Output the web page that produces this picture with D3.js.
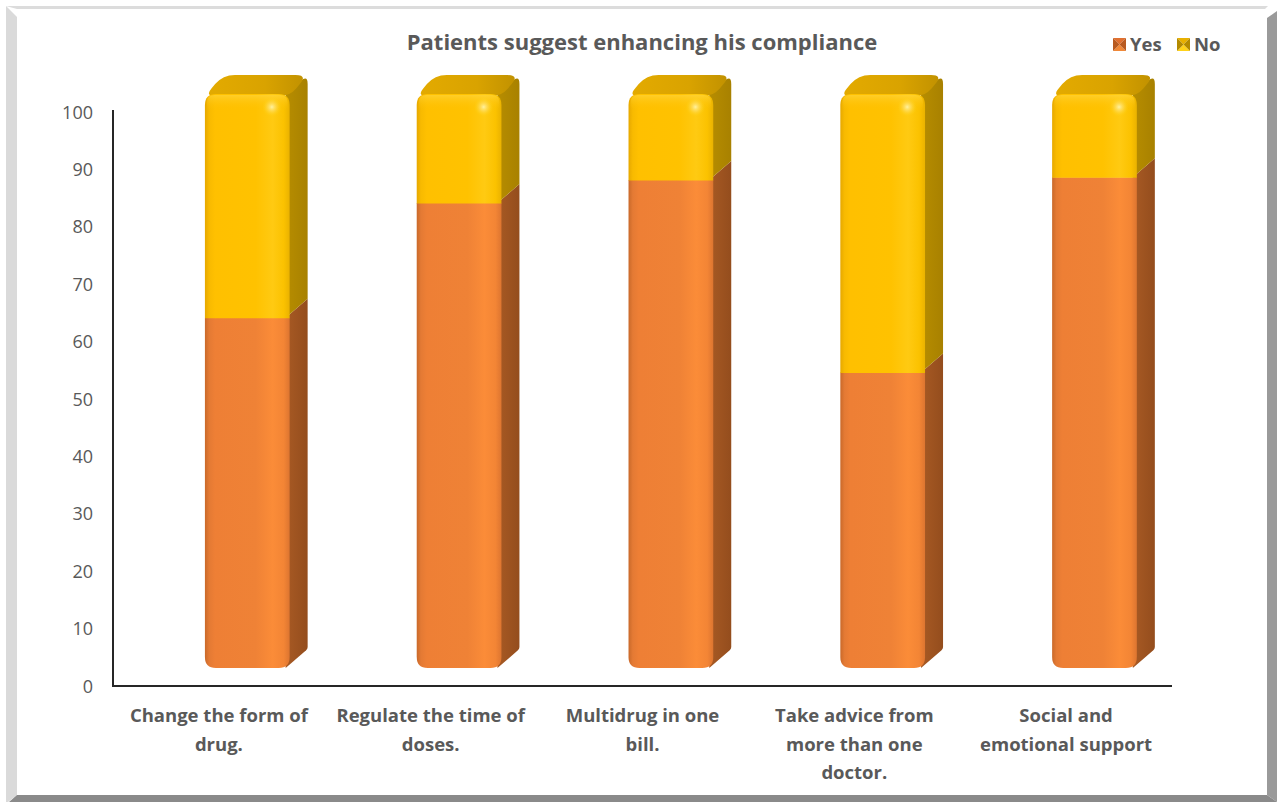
<!DOCTYPE html>
<html>
<head>
<meta charset="utf-8">
<script src="https://cdn.jsdelivr.net/npm/d3@7"></script>
<style>
  html, body { margin: 0; padding: 0; background: #ffffff; }
  svg { display: block; }
  text { font-family: "Open Sans", Lato, sans-serif; }
</style>
</head>
<body>
<svg id="chart" width="1277" height="802"></svg>
<script>
// Survey answers (percent of patients)
const categories = [
  "Change the form of drug.",
  "Regulate the time of doses.",
  "Multidrug in one bill.",
  "Take advice from more than one doctor.",
  "Social and emotional support"
];
const categoryLines = [
  ["Change the form of", "drug."],
  ["Regulate the time of", "doses."],
  ["Multidrug in one", "bill."],
  ["Take advice from", "more than one", "doctor."],
  ["Social and", "emotional support"]
];
const yesValues = [61, 81, 85, 51.5, 85.5];
const noValues  = [39, 19, 15, 48.5, 14.5];
const seriesNames = ["Yes", "No"];
const yTicks = [0, 10, 20, 30, 40, 50, 60, 70, 80, 90, 100];
const titleText = "Patients suggest enhancing his compliance";

const W = 1277, H = 802;
const svg = d3.select("#chart");
const defs = svg.append("defs");

// ---- outer frame with bevelled edges ----
svg.append("rect").attr("x", 0).attr("y", 0).attr("width", W).attr("height", H).attr("fill", "#ffffff");
const frame = svg.append("g");
frame.append("polygon").attr("points", "6,6 1268,6 1265,9 17,9").attr("fill", "#dcdcdc");
frame.append("polygon").attr("points", "6,6 17,17 17,795 8,802 6,802").attr("fill", "#dadada");
frame.append("polygon").attr("points", "1267,18 1277,11 1277,802 1267,795").attr("fill", "#9a9a9a");
frame.append("polygon").attr("points", "17,795 1267,795 1277,802 9,802").attr("fill", "#8a8a8a");

// ---- scales ----
const x = d3.scaleBand().domain(categories).range([113, 1172]).paddingInner(0).paddingOuter(0);
const y = d3.scaleLinear().domain([0, 100]).range([686, 112]);
const lift = 18;       // front face sits above the floor line
const depthX = 18, depthY = 19;
const bw = x.bandwidth();
const faceOffset = bw * 0.434;
const faceWidth = bw * 0.40;

// ---- gradients ----
function hGrad(id, stops) {
  const g = defs.append("linearGradient").attr("id", id)
    .attr("x1", "0%").attr("x2", "100%").attr("y1", "0%").attr("y2", "0%");
  stops.forEach(s => g.append("stop").attr("offset", s[0]).attr("stop-color", s[1]));
}
hGrad("yesFront", [["0%", "#c9692a"], ["5%", "#e47a34"], ["12%", "#ee7f35"], ["60%", "#ef8236"], ["80%", "#fb8c38"], ["93%", "#f38535"], ["100%", "#dd7530"]]);
hGrad("yesSide", [["0%", "#a85a24"], ["100%", "#944d1d"]]);
hGrad("noFront", [["0%", "#e6a800"], ["5%", "#f8ba00"], ["12%", "#ffc000"], ["60%", "#ffc200"], ["80%", "#ffca12"], ["93%", "#fbc200"], ["100%", "#eab200"]]);
hGrad("noSide", [["0%", "#b78d00"], ["100%", "#a88100"]]);
hGrad("noTop", [["0%", "#e3aa00"], ["60%", "#d9a300"], ["100%", "#c29200"]]);
const hl = defs.append("radialGradient").attr("id", "spec");
hl.append("stop").attr("offset", "0%").attr("stop-color", "#fff6b0").attr("stop-opacity", 0.9);
hl.append("stop").attr("offset", "45%").attr("stop-color", "#ffe066").attr("stop-opacity", 0.55);
hl.append("stop").attr("offset", "100%").attr("stop-color", "#ffd000").attr("stop-opacity", 0);
const topBand = defs.append("linearGradient").attr("id", "topBand")
  .attr("x1", "0%").attr("x2", "0%").attr("y1", "0%").attr("y2", "100%");
topBand.append("stop").attr("offset", "0%").attr("stop-color", "#ffd43a").attr("stop-opacity", 0.7);
topBand.append("stop").attr("offset", "100%").attr("stop-color", "#ffc000").attr("stop-opacity", 0);

// rounded polygon helper
function roundedPoly(pts, r) {
  const n = pts.length;
  let d = "";
  for (let i = 0; i < n; i++) {
    const p0 = pts[(i - 1 + n) % n], p1 = pts[i], p2 = pts[(i + 1) % n];
    const ri = Array.isArray(r) ? r[i] : r;
    const v1 = [p0[0] - p1[0], p0[1] - p1[1]], v2 = [p2[0] - p1[0], p2[1] - p1[1]];
    const l1 = Math.hypot(v1[0], v1[1]), l2 = Math.hypot(v2[0], v2[1]);
    const rr = Math.min(ri, l1 / 2, l2 / 2);
    const a = [p1[0] + v1[0] / l1 * rr, p1[1] + v1[1] / l1 * rr];
    const b = [p1[0] + v2[0] / l2 * rr, p1[1] + v2[1] / l2 * rr];
    d += (i === 0 ? "M" : "L") + a[0] + "," + a[1] + "Q" + p1[0] + "," + p1[1] + " " + b[0] + "," + b[1];
  }
  return d + "Z";
}

// ---- axes ----
const axisG = svg.append("g");
axisG.append("line").attr("x1", 113).attr("x2", 113).attr("y1", 110).attr("y2", y(0) + 1)
  .attr("stroke", "#262626").attr("stroke-width", 2);
axisG.append("line").attr("x1", 112).attr("x2", 1172).attr("y1", y(0)).attr("y2", y(0))
  .attr("stroke", "#262626").attr("stroke-width", 2);

const yAxis = d3.axisLeft(y).tickValues(yTicks).tickSize(0).tickPadding(0);
const yg = svg.append("g").attr("transform", "translate(93,0)").call(yAxis);
yg.select(".domain").remove();
yg.selectAll("text").attr("font-size", 18).attr("fill", "#595959")
  .attr("font-family", "Lato, sans-serif").attr("dy", "0.34em");

// ---- bars ----
const rows = categories.map((c, i) => ({ c, i, yes: yesValues[i], no: noValues[i] }));
const barsG = svg.append("g");

rows.forEach(d => {
  const g = barsG.append("g");
  const x0 = x(d.c) + faceOffset, x1 = x0 + faceWidth;
  const yBot = y(0) - lift;
  const yMid = y(d.yes) - lift;
  const yTop = y(d.yes + d.no) - lift;
  const r = 11;

  // side faces
  g.append("path").attr("fill", "url(#yesSide)")
    .attr("d", roundedPoly([[x1 - 4, yMid], [x1 + depthX, yMid - depthY], [x1 + depthX, yBot - depthY], [x1 - 4, yBot]], [0, 0, 2, 0]));
  g.append("path").attr("fill", "url(#noSide)")
    .attr("d", roundedPoly([[x1 - 4, yTop], [x1 + depthX, yTop - depthY], [x1 + depthX, yMid - depthY], [x1 - 4, yMid]], [0, 9, 0, 0]));

  // top face
  g.append("path").attr("fill", "url(#noTop)")
    .attr("d", roundedPoly([[x0, yTop + 2], [x0 + depthX, yTop - depthY], [x1 + depthX, yTop - depthY], [x1, yTop + 2]], [10, 12, 12, 10]));

  // front faces
  g.append("path").attr("fill", "url(#yesFront)")
    .attr("d", roundedPoly([[x0, yMid], [x1, yMid], [x1, yBot], [x0, yBot]], [0, 0, r, r]));
  g.append("path").attr("fill", "url(#noFront)")
    .attr("d", roundedPoly([[x0, yTop], [x1, yTop], [x1, yMid + 0.5], [x0, yMid + 0.5]], [r, r, 0, 0]));
  // bevel glow along the top edge and specular spot
  g.append("path").attr("fill", "url(#topBand)")
    .attr("d", roundedPoly([[x0 + 2, yTop + 1], [x1 - 2, yTop + 1], [x1 - 2, yTop + 16], [x0 + 2, yTop + 16]], [r, r, 0, 0]));
  g.append("ellipse").attr("cx", x0 + faceWidth * 0.79).attr("cy", yTop + 13)
    .attr("rx", 10).attr("ry", 10).attr("fill", "url(#spec)");
});

// ---- category labels ----
const labG = svg.append("g");
rows.forEach(d => {
  const t = labG.append("text").attr("x", x(d.c) + bw / 2).attr("y", 722)
    .attr("text-anchor", "middle").attr("font-size", 18.5).attr("font-weight", "bold").attr("fill", "#595959");
  categoryLines[d.i].forEach((ln, k) => {
    t.append("tspan").attr("x", x(d.c) + bw / 2).attr("dy", k === 0 ? 0 : 28.5).text(ln);
  });
});

// ---- title ----
svg.append("text").attr("x", 642).attr("y", 50).attr("text-anchor", "middle")
  .attr("font-size", 22).attr("font-weight", "bold").attr("fill", "#595959").text(titleText);

// ---- legend ----
const legendColors = { Yes: ["#f08838", "#b85a20", "#e07030"], No: ["#ffd21a", "#b38a00", "#e8b000"] };
const legendX = [1113, 1177];
const legG = svg.append("g");
seriesNames.forEach((s, i) => {
  const lx = legendX[i], ly = 38, sz = 13;
  const [light, dark, mid] = legendColors[s];
  const cx = lx + sz / 2, cy = ly + sz / 2;
  legG.append("polygon").attr("points", `${lx},${ly} ${lx + sz},${ly} ${cx},${cy}`).attr("fill", mid);
  legG.append("polygon").attr("points", `${lx},${ly + sz} ${lx + sz},${ly + sz} ${cx},${cy}`).attr("fill", light);
  legG.append("polygon").attr("points", `${lx},${ly} ${lx},${ly + sz} ${cx},${cy}`).attr("fill", dark);
  legG.append("polygon").attr("points", `${lx + sz},${ly} ${lx + sz},${ly + sz} ${cx},${cy}`).attr("fill", dark);
  legG.append("text").attr("x", lx + sz + 4).attr("y", ly + sz).attr("font-size", 18.5)
    .attr("font-weight", "bold").attr("fill", "#595959").text(s);
});
</script>
</body>
</html>
